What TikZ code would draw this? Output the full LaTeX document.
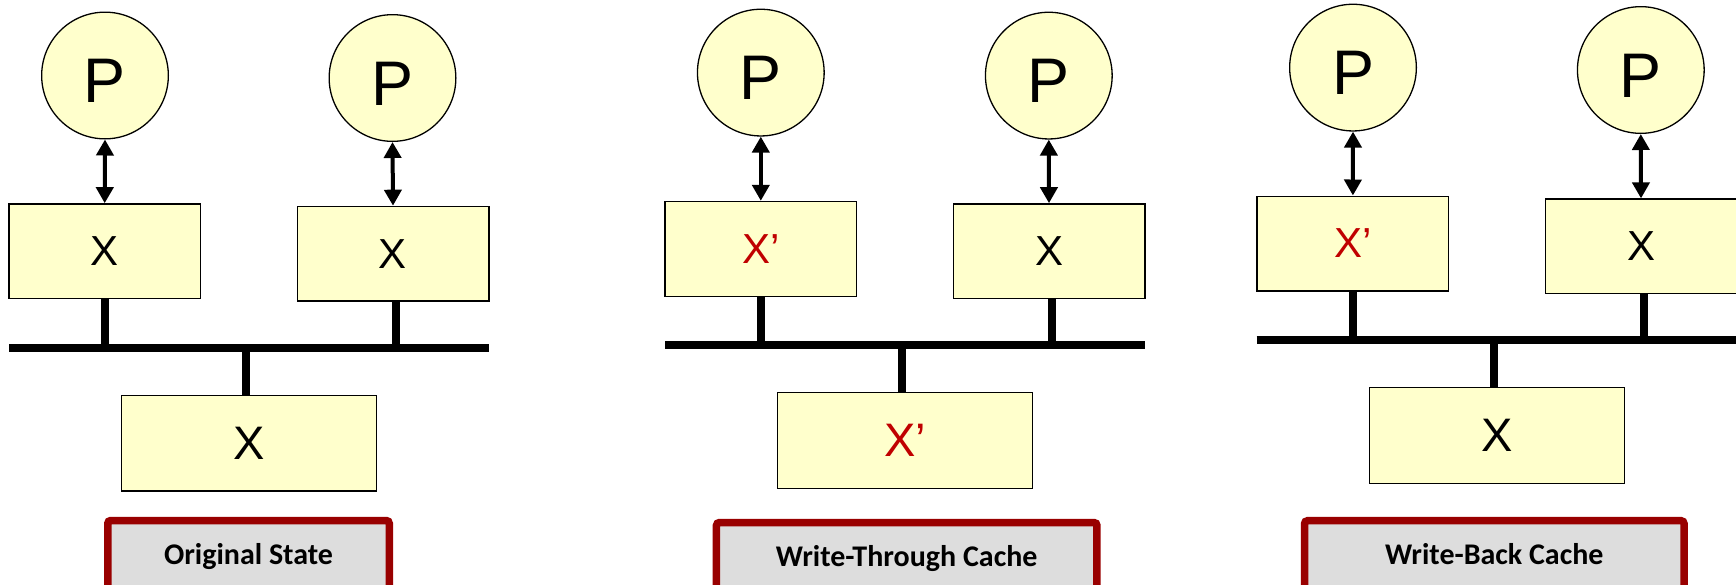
\documentclass[tikz,border=0pt]{standalone}
\usepackage{fontspec}
\setmainfont{Liberation Sans}
\newfontfamily\lblfont{Carlito}
\usetikzlibrary{arrows.meta}
\definecolor{boxfill}{RGB}{255,255,204}
\definecolor{newred}{RGB}{192,0,0}
\definecolor{capred}{RGB}{153,0,0}
\definecolor{capgray}{RGB}{221,221,221}
\tikzset{
  proc/.style={circle,draw=black,line width=1.3pt,fill=boxfill,minimum size=126.7pt,inner sep=0pt,text height=54pt,text depth=0pt,font=\fontsize{63}{63}\selectfont},
  cachebox/.style={rectangle,draw=black,line width=1.3pt,fill=boxfill,minimum width=191.7pt,minimum height=94.7pt,inner sep=0pt,font=\fontsize{42}{42}\selectfont},
  membox/.style={rectangle,draw=black,line width=1.3pt,fill=boxfill,minimum width=254.7pt,minimum height=95.5pt,inner sep=0pt,font=\fontsize{47}{47}\selectfont},
  link/.style={draw=black,line width=4pt,{Triangle[width=17pt,length=16pt]}-{Triangle[width=17pt,length=16pt]}},
  bus/.style={line width=8pt},
  stub/.style={line width=8pt},
  caption/.style={rectangle,draw=capred,line width=7.5pt,fill=capgray,rounded corners=3pt,minimum height=68.5pt,inner sep=0pt,text height=22pt,text depth=3.4pt,anchor=north,font=\lblfont\bfseries\fontsize{30}{30}\selectfont},
  new/.style={text=newred}}
\begin{document}
\begin{tikzpicture}[x=1pt,y=-1pt]
\useasboundingbox (0,0) rectangle (1736,584);

% ---------- Panel 1: Original State ----------
\node[proc] (a-p1) at (105,75.5) {P};
\node[proc] (a-p2) at (392.5,78) {P};
\node[cachebox] (a-c1) at (104.7,251.2) {X};
\node[cachebox] (a-c2) at (393,253.7) {X};
\node[membox] (a-m) at (249,443.2) {X};
\coordinate (a-busL) at (9,347.5);
\coordinate (a-busR) at (489,347.5);
\draw[link] (a-p1.south) -- (a-c1.north);
\draw[link] (a-p2.south) -- (a-c2.north);
\draw[bus] (a-busL) -- (a-busR);
\draw[stub] (a-c1.south) -- (a-c1.south |- a-busL);
\draw[stub] ([xshift=3pt]a-c2.south) -- ([xshift=3pt]a-c2.south |- a-busL);
\draw[stub] ([xshift=-3pt]a-m.north) -- ([xshift=-3pt]a-m.north |- a-busL);
\node[caption,minimum width=281.5pt] (a-cap) at (248.5,516.75) {Original State};

% ---------- Panel 2: Write-Through Cache ----------
\node[proc] (b-p1) at (760.8,72.6) {P};
\node[proc] (b-p2) at (1048.8,75.6) {P};
\node[cachebox,new] (b-c1) at (760.8,248.8) {X’};
\node[cachebox] (b-c2) at (1049,251.2) {X};
\node[membox,new] (b-m) at (905,440.4) {X’};
\coordinate (b-busL) at (665,344.5);
\coordinate (b-busR) at (1145,344.5);
\draw[link] (b-p1.south) -- (b-c1.north);
\draw[link] (b-p2.south) -- (b-c2.north);
\draw[bus] (b-busL) -- (b-busR);
\draw[stub] (b-c1.south) -- (b-c1.south |- b-busL);
\draw[stub] ([xshift=3pt]b-c2.south) -- ([xshift=3pt]b-c2.south |- b-busL);
\draw[stub] ([xshift=-3pt]b-m.north) -- ([xshift=-3pt]b-m.north |- b-busL);
\node[caption,minimum width=380.5pt] (b-cap) at (906.7,518.75) {Write-Through Cache};

% ---------- Panel 3: Write-Back Cache ----------
\node[proc] (c-p1) at (1353,67.6) {P};
\node[proc] (c-p2) at (1640.8,70) {P};
\node[cachebox,new] (c-c1) at (1352.9,243.5) {X’};
\node[cachebox] (c-c2) at (1641,246.4) {X};
\node[membox] (c-m) at (1497,435.5) {X};
\coordinate (c-busL) at (1256.7,339.7);
\coordinate (c-busR) at (1736,339.7);
\draw[link] (c-p1.south) -- (c-c1.north);
\draw[link] (c-p2.south) -- (c-c2.north);
\draw[bus] (c-busL) -- (c-busR);
\draw[stub] (c-c1.south) -- (c-c1.south |- c-busL);
\draw[stub] ([xshift=3pt]c-c2.south) -- ([xshift=3pt]c-c2.south |- c-busL);
\draw[stub] ([xshift=-3pt]c-m.north) -- ([xshift=-3pt]c-m.north |- c-busL);
\node[caption,minimum width=379.5pt] (c-cap) at (1494.3,516.95) {Write-Back Cache};
\end{tikzpicture}
\end{document}
